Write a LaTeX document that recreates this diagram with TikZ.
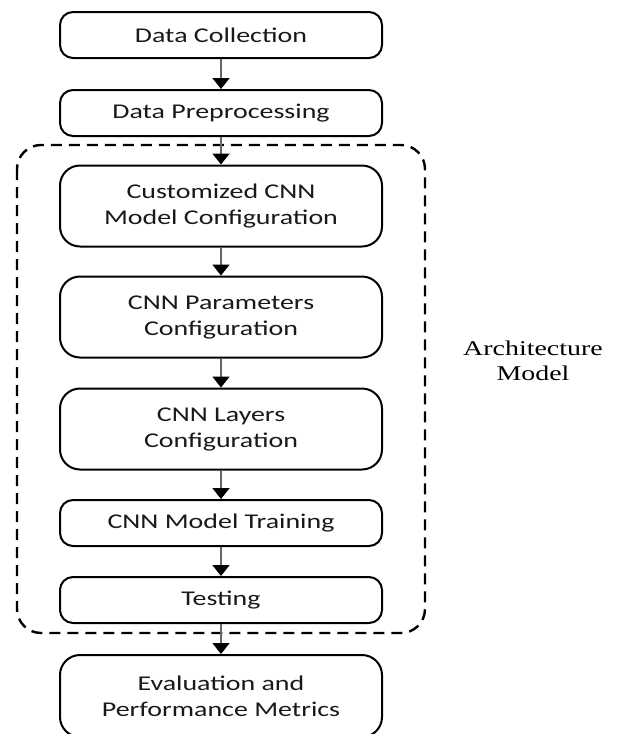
\documentclass[tikz,border=0pt]{standalone}
\usepackage{fontspec}
\usepackage{tikz}
\usetikzlibrary{arrows.meta}

\newfontfamily\boxfont[FakeStretch=1.33]{Carlito}
\newfontfamily\notefont[FakeStretch=1.33]{Liberation Serif}

\begin{document}
\begin{tikzpicture}
				[x=1pt,y=-1pt,
				stage/.style={draw,line width=2pt,rounded corners=13pt,minimum width=322pt,minimum height=46pt,align=center,text=black!90,font=\boxfont\fontsize{21}{26}\selectfont},
				tallstage/.style={stage,rounded corners=20pt,minimum height=81pt},
				flow/.style={draw=black!60,line width=1.8pt,-{Triangle[color=black,width=17pt,length=11pt]}}]
				\useasboundingbox (0,0) rectangle (618,734);
				\node[stage] (n1) at (221,35)  {Data Collection};
				\node[stage] (n2) at (221,113)  {Data Preprocessing};
				\node[tallstage] (n3) at (221,206) {Customized CNN\\Model Configuration};
				\node[tallstage] (n4) at (221,317)  {CNN Parameters\\Configuration};
				\node[tallstage] (n5) at (221,429)  {CNN Layers\\Configuration};
				\node[stage] (n6) at (221,523)  {CNN Model Training};
				\node[stage] (n7) at (221,600)  {Testing};
				\node[tallstage,minimum height=82pt] (n8) at (221,696)  {Evaluation and\\Performance Metrics};
				
				% group around the model stages
				\draw[line width=2.4pt,dash pattern=on 11pt off 7pt,rounded corners=24pt] (17,145) rectangle (425,633);
				\node[align=center,font=\notefont\fontsize{21}{25}\selectfont] (arch) at (533,361) {Architecture\\Model};
				
				\foreach \from/\to in {n1/n2,n2/n3,n3/n4,n4/n5,n5/n6,n6/n7,n7/n8}
				\draw[flow] (\from) -- (\to);
\end{tikzpicture}
\end{document}
